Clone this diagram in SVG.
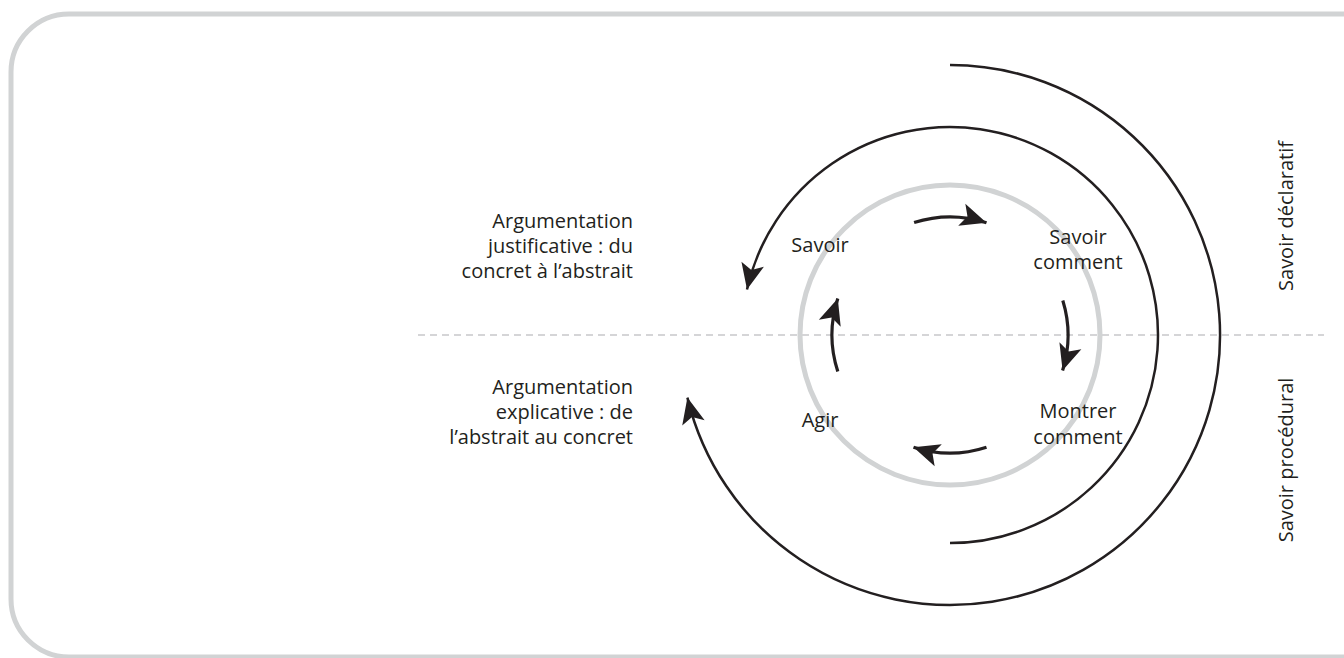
<svg xmlns="http://www.w3.org/2000/svg" width="1344" height="658" viewBox="0 0 1344 658">
<style>
.lbl{font-family:"Open Sans","Noto Sans",sans-serif;font-size:20px;fill:#231f20}
.r{text-anchor:end}
.m{text-anchor:middle}
.arc{fill:none;stroke:#231f20;stroke-width:2.5}
.arr{fill:none;stroke:#231f20;stroke-width:3.2}
</style>
<defs>
<marker id="ah" markerUnits="userSpaceOnUse" markerWidth="32" markerHeight="30" viewBox="-28 -15 32 30" refX="0" refY="0" orient="auto">
<path d="M0,0 L-26,-11.5 L-20,0 L-26,11.5 Z" fill="#231f20"/>
</marker>
</defs>
<rect id="frame" x="11" y="14" width="1420" height="643" rx="58" ry="58" fill="none" stroke="#d1d3d4" stroke-width="5"/>
<line id="divider" x1="418" y1="335" x2="1324" y2="335" stroke="#c7c8ca" stroke-width="1.5" stroke-dasharray="7,5"/>
<circle id="cycle" cx="950" cy="335" r="150" fill="none" stroke="#d1d3d4" stroke-width="5"/>
<g id="connectors">
<path class="arc" d="M950,65 A270,270 0 1 1 687.4,397.6" marker-end="url(#ah)"/>
<path class="arc" d="M950,543 A208,208 0 1 0 747,289.6" marker-end="url(#ah)"/>
<path class="arr" d="M914.1,222.6 A118,118 0 0 1 986.5,222.8" marker-end="url(#ah)"/>
<path class="arr" d="M1062.8,300.5 A118,118 0 0 1 1062.6,370.5" marker-end="url(#ah)"/>
<path class="arr" d="M986.5,447.2 A118,118 0 0 1 913.5,447.2" marker-end="url(#ah)"/>
<path class="arr" d="M837.8,371.5 A118,118 0 0 1 837.8,298.5" marker-end="url(#ah)"/>
</g>
<g id="arg-justificative">
<text class="lbl r" x="633" y="228">Argumentation</text>
<text class="lbl r" x="633" y="253">justificative : du</text>
<text class="lbl r" x="633" y="278">concret à l’abstrait</text>
</g>
<g id="arg-explicative">
<text class="lbl r" x="633" y="394">Argumentation</text>
<text class="lbl r" x="633" y="419">explicative : de</text>
<text class="lbl r" x="633" y="444">l’abstrait au concret</text>
</g>
<g id="savoir"><text class="lbl m" x="820" y="252">Savoir</text></g>
<g id="savoir-comment">
<text class="lbl m" x="1078" y="244">Savoir</text>
<text class="lbl m" x="1078" y="269">comment</text>
</g>
<g id="montrer-comment">
<text class="lbl m" x="1078" y="418">Montrer</text>
<text class="lbl m" x="1078" y="444">comment</text>
</g>
<g id="agir"><text class="lbl m" x="820" y="427">Agir</text></g>
<g id="savoir-declaratif"><text class="lbl m" transform="translate(1293,216) rotate(-90)">Savoir déclaratif</text></g>
<g id="savoir-procedural"><text class="lbl m" transform="translate(1293,460) rotate(-90)">Savoir procédural</text></g>
</svg>
